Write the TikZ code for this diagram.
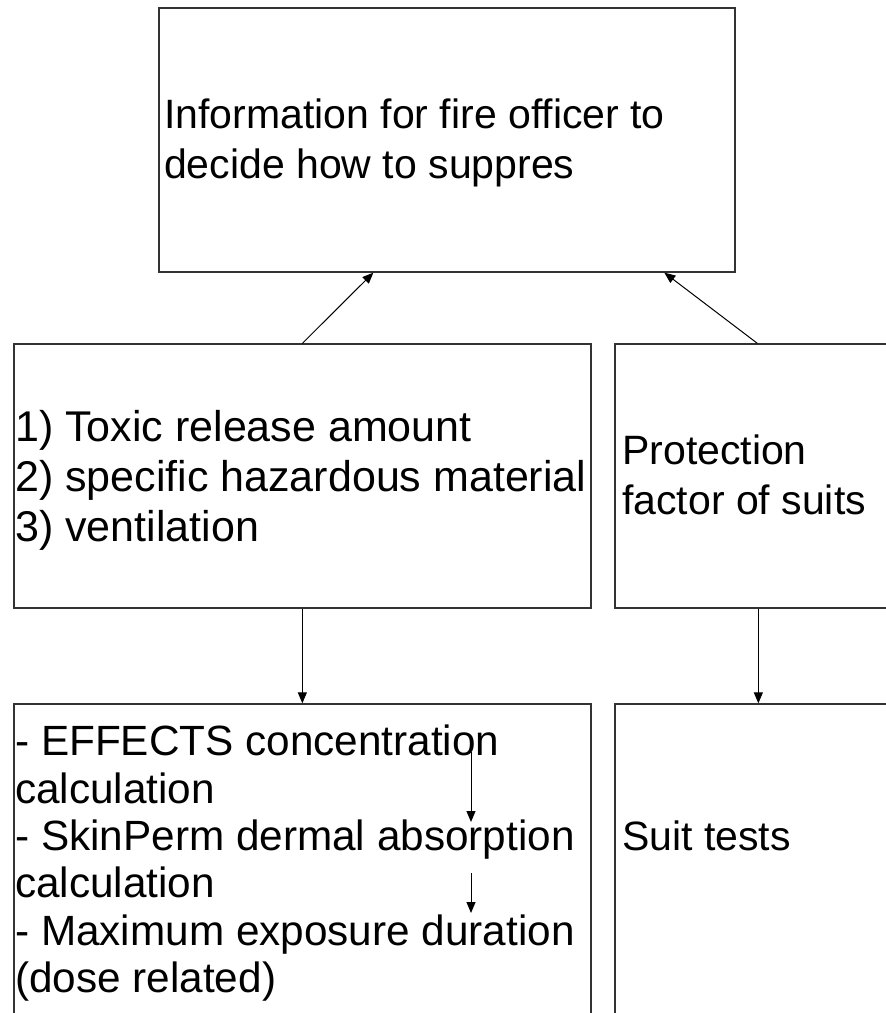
\documentclass[tikz,border=0pt]{standalone}
\usepackage{fontspec}
\setmainfont{Liberation Sans}
\usetikzlibrary{arrows.meta}
\begin{document}
\begin{tikzpicture}[x=1pt,y=-1pt,
  box/.style={draw=black!80, line width=1.3pt, rectangle, inner sep=0pt},
  lbl/.style={font=\fontsize{41}{50}\selectfont, align=left, anchor=west, inner sep=0pt,
    execute at begin node=\strut, execute at end node=\strut},
  arr/.style={-{Triangle[length=11pt,width=9pt]}, line width=1pt, black}]
\useasboundingbox (0,0) rectangle (886,1013);
\clip (0,0) rectangle (886,1013);
% boxes
\node[box, minimum width=576pt, minimum height=264pt] (top)  at (447,140) {};
\node[box, minimum width=577pt, minimum height=264pt] (midL) at (302.5,476) {};
\node[box, minimum width=300pt, minimum height=264pt] (midR) at (765,476) {};
\node[box, minimum width=577pt, minimum height=340pt] (botL) at (302.5,874) {};
\node[box, minimum width=300pt, minimum height=340pt] (botR) at (765,874) {};
% texts
\node[lbl] (ttop) at (164,146) {Information for fire officer to\\decide how to suppres};
\node[lbl, font=\fontsize{43}{50}\selectfont] (tml) at (15,483) {1) Toxic release amount\\2) specific hazardous material\\3) ventilation};
\node[lbl] (tmr) at (622,482) {Protection\\factor of suits};
\node[lbl, font=\fontsize{42.3}{47.4}\selectfont] (tbl) at (15,866) {- EFFECTS concentration\\calculation\\- SkinPerm dermal absorption\\calculation\\- Maximum exposure duration\\(dose related)};
\node[lbl] (tbr) at (622,840) {Suit tests};
% connectors
\draw[arr] ([xshift=289pt]midL.north west) -- ([xshift=215pt]top.south west);
\draw[arr] ([xshift=143pt]midR.north west) -- ([xshift=506pt]top.south west);
\draw[arr] ([xshift=289pt]midL.south west) -- ([xshift=289pt]botL.north west);
\draw[arr] ([xshift=144pt]midR.south west) -- ([xshift=144pt]botR.north west);
\coordinate (s1a) at (471,752);
\coordinate (s1b) at (471,822);
\coordinate (s2a) at (471,873);
\coordinate (s2b) at (471,913);
\draw[arr] (s1a) -- (s1b);
\draw[arr] (s2a) -- (s2b);
\end{tikzpicture}
\end{document}
